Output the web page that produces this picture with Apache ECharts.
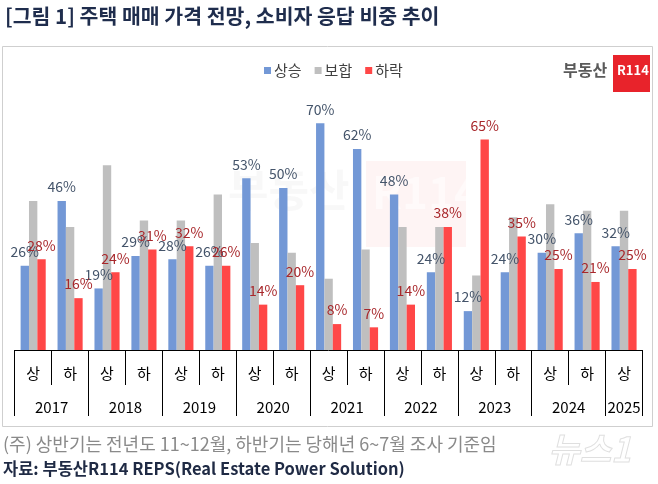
<!DOCTYPE html>
<html><head><meta charset="utf-8">
<script src="https://cdn.jsdelivr.net/npm/echarts@6/dist/echarts.min.js"></script>
<style>html,body{margin:0;padding:0;background:#fff}#c{width:658px;height:484px}</style>
</head><body><div id="c"></div>
<script>
const halves = ['상','하','상','하','상','하','상','하','상','하','상','하','상','하','상','하','상'];
const years = ['2017','2018','2019','2020','2021','2022','2023','2024','2025'];
const yearBounds = [0,2,4,6,8,10,12,14,16,17];
const up   = [26,46,19,29,28,26,53,50,70,62,48,24,12,24,30,36,32];
const hold = [46,38,57,40,40,48,33,30,22,31,38,38,23,41,45,43,43];
const down = [28,16,24,31,32,26,14,20,8,7,14,38,65,35,25,21,25];

const yearCenters = years.map((y,i)=> (yearBounds[i]+yearBounds[i+1])/2);
const FONT = '"Noto Sans CJK KR","Noto Sans",sans-serif';
const chart = echarts.init(document.getElementById('c'));
function lbl(color){return {show:true,position:'top',distance:7,formatter:'{c}%',color:color,fontSize:14,fontFamily:FONT};}
chart.setOption({
  animation:false,
  backgroundColor:'#fff',
  textStyle:{fontFamily:FONT},
  legend:{top:58,left:259,itemWidth:7,itemHeight:7,itemGap:13,icon:'rect',
    textStyle:{fontSize:15,color:'#404040',padding:[0,0,0,-2]},
    data:['상승','보합','하락']},
  grid:{left:14.7,right:15.5,top:90.8,bottom:134,containLabel:false},
  xAxis:[
    {type:'category',data:halves,gridIndex:0,
     axisLine:{lineStyle:{color:'#000',width:1}},
     axisTick:{show:true,length:35,lineStyle:{color:'#000'}},
     axisLabel:{margin:16,fontSize:15,color:'#000'}},
    {type:'value',min:0,max:17,gridIndex:0,position:'bottom',
     axisLine:{show:false},splitLine:{show:false},
     axisTick:{show:true,length:66,customValues:yearBounds,lineStyle:{color:'#000'}},
     axisLabel:{show:true,customValues:yearCenters,margin:50,fontSize:15,color:'#000',
       formatter:function(v){const i=yearCenters.indexOf(v);return i>=0?years[i]:'';}}}
  ],
  yAxis:{type:'value',min:0,max:80,show:false,splitLine:{show:false}},
  graphic:[
    {type:'rect',shape:{x:2.5,y:46.5,width:650,height:380},style:{fill:'none',stroke:'#cfcfcf',lineWidth:1},z:-1},
    {type:'text',left:5,top:6,style:{text:'[그림 1] 주택 매매 가격 전망, 소비자 응답 비중 추이',font:'bold 20.5px '+FONT,fill:'#1F2D4D'}},
    {type:'text',left:563,top:62,style:{text:'부동산',font:'bold 16px '+FONT,fill:'#5a5a5a'}},
    {type:'rect',shape:{x:613,y:55,width:37,height:37},style:{fill:'#E8232B'}},
    {type:'text',left:617,top:64,style:{text:'R114',font:'bold 13px '+FONT,fill:'#fff'}},
    {type:'rect',shape:{x:366,y:161,width:100,height:86},style:{fill:'rgba(232,35,43,0.05)'},z:-1},
    {type:'text',left:228,top:168,style:{text:'부동산',font:'bold 44px '+FONT,fill:'rgba(200,200,200,0.12)'},z:-1},
    {type:'text',left:372,top:170,style:{text:'R114',font:'bold 44px '+FONT,fill:'rgba(255,255,255,0.5)'},z:-1},
    {type:'text',left:3,top:435,style:{text:'(주) 상반기는 전년도 11~12월, 하반기는 당해년 6~7월 조사 기준임',font:'18px '+FONT,fill:'#8a8a8a'}},
    {type:'text',left:3,top:460,style:{text:'자료: 부동산R114 REPS(Real Estate Power Solution)',font:'bold 16.5px '+FONT,fill:'#1F2A44'}},
    {type:'text',left:548,top:432,style:{text:'뉴스1',font:'italic bold 34px '+FONT,fill:'rgba(0,0,0,0)',stroke:'rgba(150,150,150,0.3)',lineWidth:1}}
  ],
  series:[
    {name:'상승',type:'bar',data:up,itemStyle:{color:'#7398D6'},barGap:'0%',barCategoryGap:'32%',label:lbl('#44546A')},
    {name:'보합',type:'bar',data:hold,itemStyle:{color:'#BFBFBF'}},
    {name:'하락',type:'bar',data:down,itemStyle:{color:'#FF4747'},label:lbl('#A8272B')}
  ]
});
</script></body></html>
